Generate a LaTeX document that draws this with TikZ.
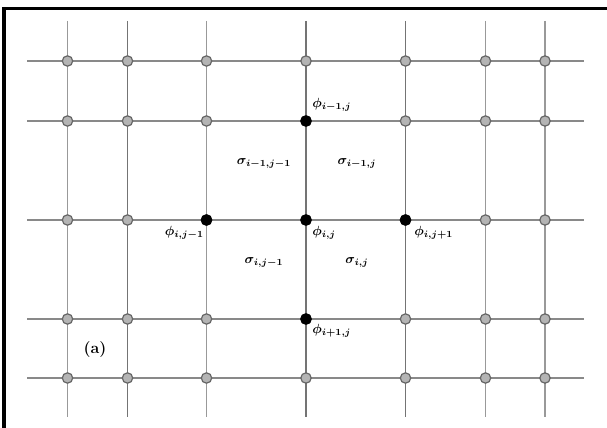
\documentclass[tikz,border=0pt]{standalone}
\usepackage{amsmath,amssymb}
\usepackage{tikz}
\usetikzlibrary{positioning}
\definecolor{GridLight}{HTML}{999999}
\definecolor{GridDark}{HTML}{747474}
\definecolor{PtFill}{HTML}{B4B4B4}
\definecolor{PtEdge}{HTML}{666666}
\tikzset{
    % Grid lines
    lightline/.style={
        draw=GridLight,
        line width=1.4pt
    },
    darkline/.style={
        draw=GridDark,
        line width=1.4pt
    },
    rowline/.style={
        draw=GridDark!85!white,
        line width=1.4pt
    },
    % Grid points
    gridpt/.style={
        circle,
        draw=PtEdge,
        fill=PtFill,
        line width=0.9pt,
        minimum size=7.8pt,
        inner sep=0pt
    },
    % Stencil points
    stencilpt/.style={
        gridpt,
        draw=black,
        fill=black
    },
    % Labels
    lbl/.style={
        font=\normalsize\boldmath,
        inner sep=0pt
    }
}
\begin{document}
\begin{tikzpicture}[x=0.75pt, y=-0.75pt]
        \useasboundingbox (0,0) rectangle (607,428);
        % Frame
        \coordinate (fbl) at (4,428);
        \coordinate (ftl) at (4,8.5);
        \coordinate (ftr) at (607,8.5);
        \draw[line width=2.6pt, line join=miter] (fbl) -- (ftl) -- (ftr);

        % Line ends
        \foreach \x [count=\c] in {67.5,127.5,206.5,306,405.5,485.5,545} {
            \coordinate (top-\c) at (\x,21);
            \coordinate (bot-\c) at (\x,417);
        }
        \foreach \y [count=\r] in {61,121,220,319,378} {
            \coordinate (lft-\r) at (27,\y);
            \coordinate (rgt-\r) at (584,\y);
        }

        % Grid lines
        \foreach \r in {1,...,5}
            \draw[rowline] (lft-\r) -- (rgt-\r);
        \foreach \c in {1,3,6,7}
            \draw[lightline] (top-\c) -- (bot-\c);
        \foreach \c in {2,4,5}
            \draw[darkline] (top-\c) -- (bot-\c);

        % Grid points
        \foreach \x [count=\c] in {67.5,127.5,206.5,306,405.5,485.5,545}
            \foreach \y [count=\r] in {61,121,220,319,378}
                \node[gridpt] (n-\r-\c) at (\x,\y) {};

        % Stencil
        \node[stencilpt] (phiup) at (n-2-4) {};
        \node[stencilpt] (phileft) at (n-3-3) {};
        \node[stencilpt] (phic) at (n-3-4) {};
        \node[stencilpt] (phiright) at (n-3-5) {};
        \node[stencilpt] (phidown) at (n-4-4) {};

        % Potentials
        \node[lbl, anchor=west] (lup) at (312,105) {$\phi_{i-1,j}$};
        \node[lbl, anchor=east] (lleft) at (204,233) {$\phi_{i,j-1}$};
        \node[lbl, anchor=west] (lc) at (312,233) {$\phi_{i,j}$};
        \node[lbl, anchor=west] (lright) at (414,233) {$\phi_{i,j+1}$};
        \node[lbl, anchor=west] (ldown) at (312,331) {$\phi_{i+1,j}$};

        % Conductivities
        \node[lbl] (s1) at (264,163) {$\sigma_{i-1,j-1}$};
        \node[lbl] (s2) at (357,163) {$\sigma_{i-1,j}$};
        \node[lbl] (s3) at (264,262) {$\sigma_{i,j-1}$};
        \node[lbl] (s4) at (357,262) {$\sigma_{i,j}$};

        \node[lbl, font=\large\bfseries] (tag) at (95,350) {(a)};
    \end{tikzpicture}
\end{document}
